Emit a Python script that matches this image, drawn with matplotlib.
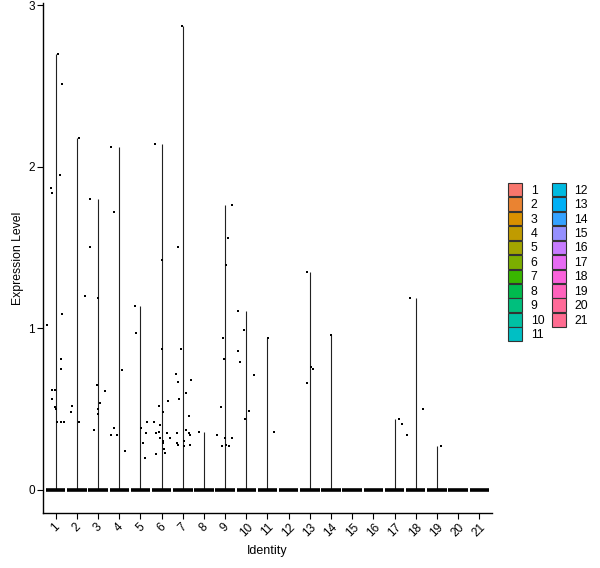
import matplotlib
matplotlib.use("Agg")
import matplotlib.pyplot as plt
import matplotlib.patches as mpatches
import numpy as np

plt.rcParams["font.family"] = ["Liberation Sans", "DejaVu Sans"]

# identities (clusters) and hue palette (ggplot default hues)
identities = [str(i) for i in range(1, 22)]
palette = [
    "#F8766D", "#EA8331", "#D89000", "#C09B00", "#A3A500", "#7CAE00", "#39B600",
    "#00BB4E", "#00BF7D", "#00C1A3", "#00BFC4", "#00BAE0", "#00B0F6", "#35A2FF",
    "#9590FF", "#C77CFF", "#E76BF3", "#FA62DB", "#FF62BC", "#FF6A98", "#FF6C91",
]

# non-zero expression values per identity
values = {
    "1": [2.70, 2.51, 1.95, 1.87, 1.84, 1.09, 1.02, 0.81, 0.75, 0.62, 0.62,
          0.56, 0.56, 0.51, 0.50, 0.42, 0.42, 0.42],
    "2": [2.18, 1.20, 0.52, 0.48, 0.42],
    "3": [1.80, 1.50, 1.19, 0.65, 0.61, 0.54, 0.50, 0.47, 0.37],
    "4": [2.12, 1.72, 0.74, 0.38, 0.34, 0.34, 0.24],
    "5": [1.14, 0.97, 0.42, 0.38, 0.35, 0.29, 0.20],
    "6": [2.14, 1.42, 0.87, 0.55, 0.52, 0.48, 0.42, 0.40, 0.36, 0.35, 0.35,
          0.32, 0.32, 0.30, 0.29, 0.25, 0.23, 0.22],
    "7": [2.87, 1.50, 0.87, 0.72, 0.68, 0.67, 0.60, 0.56, 0.46, 0.37, 0.35,
          0.35, 0.34, 0.34, 0.30, 0.29, 0.28, 0.28, 0.27],
    "8": [0.36],
    "9": [1.76, 1.56, 1.39, 0.94, 0.81, 0.51, 0.34, 0.32, 0.32, 0.28, 0.27, 0.27],
    "10": [1.11, 0.99, 0.86, 0.79, 0.71, 0.49, 0.44],
    "11": [0.94, 0.36],
    "12": [],
    "13": [1.35, 0.76, 0.75, 0.66],
    "14": [0.96],
    "15": [],
    "16": [],
    "17": [0.44, 0.41],
    "18": [1.19, 0.50, 0.34],
    "19": [0.27],
    "20": [],
    "21": [],
}

fig = plt.figure(figsize=(6.0, 5.68), dpi=100)
ax = fig.add_axes([43 / 600, 1 - 513 / 568, 449 / 600, 510 / 568])

rng = np.random.default_rng(7)
positions = np.arange(1, len(identities) + 1)
maxes = [max(values[k]) if values[k] else 0 for k in identities]

# violins collapse to a spike at zero plus a thin line up to the max value
ax.vlines(positions, 0, maxes, color="#222222", lw=0.8, zorder=2)
ax.hlines(np.zeros(len(positions)), positions - 0.46, positions + 0.46,
          color="black", lw=2.6, zorder=3)

for pos, key in zip(positions, identities):
    v = np.array(values[key])
    if len(v) == 0:
        continue
    jit = rng.uniform(-0.4, 0.4, len(v))
    ax.plot(pos + jit, v, "s", color="black", markersize=1.6,
            markeredgewidth=0, zorder=4)

ax.set_xlim(0.4, 21.6)
ax.set_ylim(-0.1435, 3.0135)
ax.set_xticks(positions)
ax.set_xticklabels(identities, rotation=45, ha="center", va="top")
ax.set_yticks([0, 1, 2, 3])
ax.set_yticklabels(["0", "1", "2", "3"])
ax.tick_params(axis="both", labelsize=8.5, length=4, width=0.8,
               color="black", labelcolor="black", pad=2)
for side in ["top", "right"]:
    ax.spines[side].set_visible(False)
for side in ["left", "bottom"]:
    ax.spines[side].set_linewidth(1.0)
    ax.spines[side].set_color("black")

ax.set_xlabel("Identity", fontsize=9, labelpad=4)
ax.set_ylabel("Expression Level", fontsize=8.8, labelpad=3)

handles = [mpatches.Patch(facecolor=c, edgecolor="#333333", lw=0.8, label=k)
           for k, c in zip(identities, palette)]
leg = fig.legend(handles=handles, ncol=2, loc="center left",
                 bbox_to_anchor=(502 / 600, 1 - 262 / 568), frameon=False,
                 fontsize=8.8, handlelength=1.15, handleheight=1.33,
                 handletextpad=0.7, columnspacing=0.6, labelspacing=0.05,
                 borderpad=0)

fig.savefig("out.png", dpi=100)
